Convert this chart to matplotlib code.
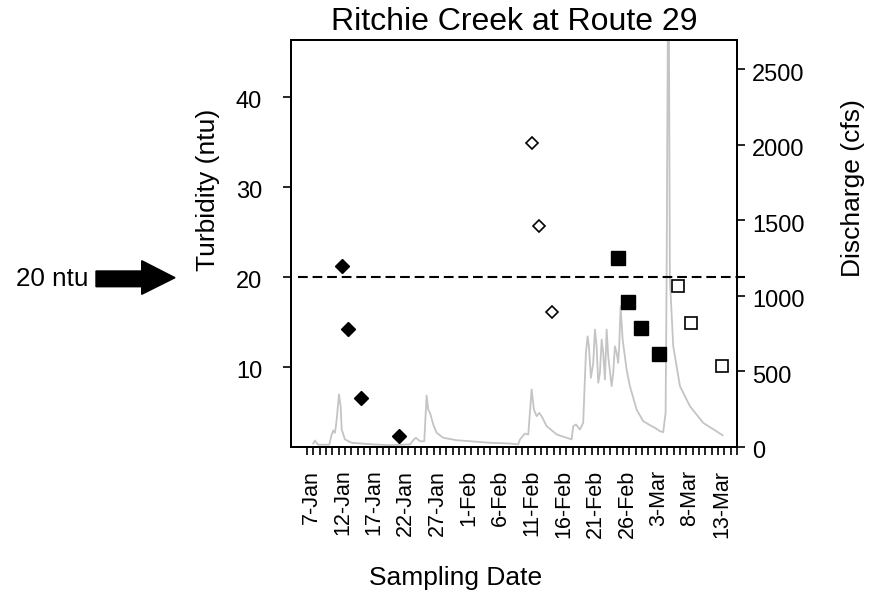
import matplotlib
matplotlib.use("Agg")
import matplotlib.pyplot as plt
import numpy as np
from matplotlib.patches import Polygon
from matplotlib.transforms import ScaledTranslation

plt.rcParams['font.family'] = ['Liberation Sans', 'DejaVu Sans']
plt.rcParams['lines.scale_dashes'] = False

# ---- data (x = day of year, 2003: 1 = 1-Jan) ----
tick_days = np.arange(6.4, 74.5, 1.0)
label_days = [7, 12, 17, 22, 27, 32, 37, 42, 47, 52, 57, 62, 67, 72]
label_text = ["7-Jan", "12-Jan", "17-Jan", "22-Jan", "27-Jan", "1-Feb", "6-Feb",
              "11-Feb", "16-Feb", "21-Feb", "26-Feb", "3-Mar", "8-Mar", "13-Mar"]

filled_diamond_day = [11.95, 12.81, 14.91, 20.92]
filled_diamond_ntu = [21.2, 14.2, 6.5, 2.3]
open_diamond_day = [42.02, 43.12, 45.09]
open_diamond_ntu = [34.9, 25.6, 16.1]
filled_square_day = [55.62, 57.11, 59.17, 62.11]
filled_square_ntu = [22.1, 17.2, 14.3, 11.4]
open_square_day = [65.12, 67.08, 72.08]
open_square_ntu = [19.0, 14.9, 10.1]

q_day = [7.36, 7.63, 8.1, 9.9, 10.28, 10.53, 10.8, 11.07, 11.43, 11.7, 11.86, 12.38,
         13.44, 16.81, 19.5, 22.66, 23.3, 23.61, 24.25, 24.93, 25.3, 25.56, 25.83,
         25.99, 26.35, 26.89, 27.93, 30.05, 35.32, 38.49, 39.8, 40.07, 40.86, 41.39,
         41.92, 42.28, 42.71, 43.12, 43.5, 44.3, 45.88, 48.25, 48.5, 48.93, 49.56,
         50.08, 50.51, 50.78, 50.98, 51.3, 51.67, 51.94, 52.2, 52.46, 52.73, 53.0,
         53.25, 53.52, 53.79, 54.04, 54.58, 54.83, 55.1, 55.37, 55.62, 55.78, 56.0,
         56.32, 56.95, 57.47, 58.53, 59.58, 60.91, 61.43, 62.22, 62.74, 63.12, 63.28,
         63.57, 63.8, 64.33, 65.39, 66.97, 69.07, 72.14]
q_cfs = [23, 43, 15, 15, 83, 109, 94, 182, 348, 270, 116, 50,
         28, 17, 12, 17, 50, 61, 38, 38, 341, 248, 226,
         204, 149, 94, 61, 45, 28, 23, 17, 50, 89, 83,
         381, 248, 204, 226, 204, 138, 83, 50, 138, 149, 116,
         160, 624, 733, 667, 458, 557, 778, 667, 425, 491, 712,
         624, 447, 778, 601, 403, 491, 667, 624, 557, 667, 932,
         712, 513, 403, 248, 171, 138, 127, 105, 98, 226, 1109,
         3600, 1109, 667, 403, 270, 160, 78]

threshold = 20
threshold_span = [4.9, 75.7]

# ---- figure ----
fig = plt.figure(figsize=(8.83, 5.98), dpi=100)
ax = fig.add_axes([291/883, 1-447/598, 446/883, 407/598])
ax2 = ax.twinx()
ax.set_zorder(2)
ax.patch.set_visible(False)

TICK_FS = 17
XTICK_FS = 15.5
LABEL_FS = 19

ax2.plot(q_day, q_cfs, color='#c4c4c4', lw=1.3, zorder=1)
ax2.set_ylim(0, 2695)
ax2.set_yticks([0, 500, 1000, 1500, 2000, 2500])
ax2.tick_params(axis='y', direction='out', length=5.8, width=1.2, labelsize=TICK_FS, pad=5)
ax2.set_ylabel("Discharge (cfs)", fontsize=LABEL_FS)
ax2.yaxis.label.set_va('center')
ax2.yaxis.set_label_coords(1.261, 0.636)

ax.plot(threshold_span, [threshold, threshold], color='black', lw=1.5,
        dashes=(7, 3.5), clip_on=False, zorder=3)
ax.plot(filled_diamond_day, filled_diamond_ntu, 'D', color='black', ms=6.8, ls='none', zorder=4)
ax.plot(open_diamond_day, open_diamond_ntu, 'D', mfc='white', mec='black', mew=1.2, ms=6.2, ls='none', zorder=4)
ax.plot(filled_square_day, filled_square_ntu, 's', color='black', ms=10, ls='none', zorder=4)
ax.plot(open_square_day, open_square_ntu, 's', mfc='white', mec='black', mew=1.2, ms=8.5, ls='none', zorder=4)

ax.set_xlim(3.84, 74.42)
ax.set_ylim(1.08, 46.3)
ax.set_yticks([10, 20, 30, 40])
ax.tick_params(axis='y', direction='out', length=5.8, width=1.2, labelsize=TICK_FS, pad=15)
ax.set_xticks(tick_days, minor=True)
ax.set_xticks(label_days)
ax.set_xticklabels(label_text, rotation=90, fontsize=XTICK_FS)
ax.tick_params(axis='x', which='minor', direction='out', length=5.8, width=1.2)
ax.tick_params(axis='x', which='major', length=5.8, width=0, pad=10.5)
ax.set_ylabel("Turbidity (ntu)", fontsize=LABEL_FS)
ax.yaxis.label.set_va('center')
ax.yaxis.set_label_coords(-0.185, 0.631)
ax.set_xlabel("Sampling Date", fontsize=LABEL_FS)
ax.xaxis.label.set_va('center')
ax.xaxis.set_label_coords(0.368, -0.322)
ax.set_title("Ritchie Creek at Route 29", fontsize=23, pad=7)

# tick labels sit a little below their ticks
shift = ScaledTranslation(0, -3/100, fig.dpi_scale_trans)
for lab in ax.get_yticklabels() + ax2.get_yticklabels():
    lab.set_transform(lab.get_transform() + shift)

for a in (ax, ax2):
    for s in a.spines.values():
        s.set_linewidth(1.4)

# annotation arrow at left
fig.text(16/883, 1-279/598, "20 ntu", fontsize=18.7, ha='left', va='center')
arrow_px = [(96, 271), (141.7, 271), (141.7, 260.7), (175, 277.7),
            (141.7, 294.3), (141.7, 286.7), (96, 286.7)]
arrow_fig = [(x/883, 1-y/598) for x, y in arrow_px]
fig.add_artist(Polygon(arrow_fig, closed=True, color='black', transform=fig.transFigure))

fig.savefig("out.png", dpi=100)
